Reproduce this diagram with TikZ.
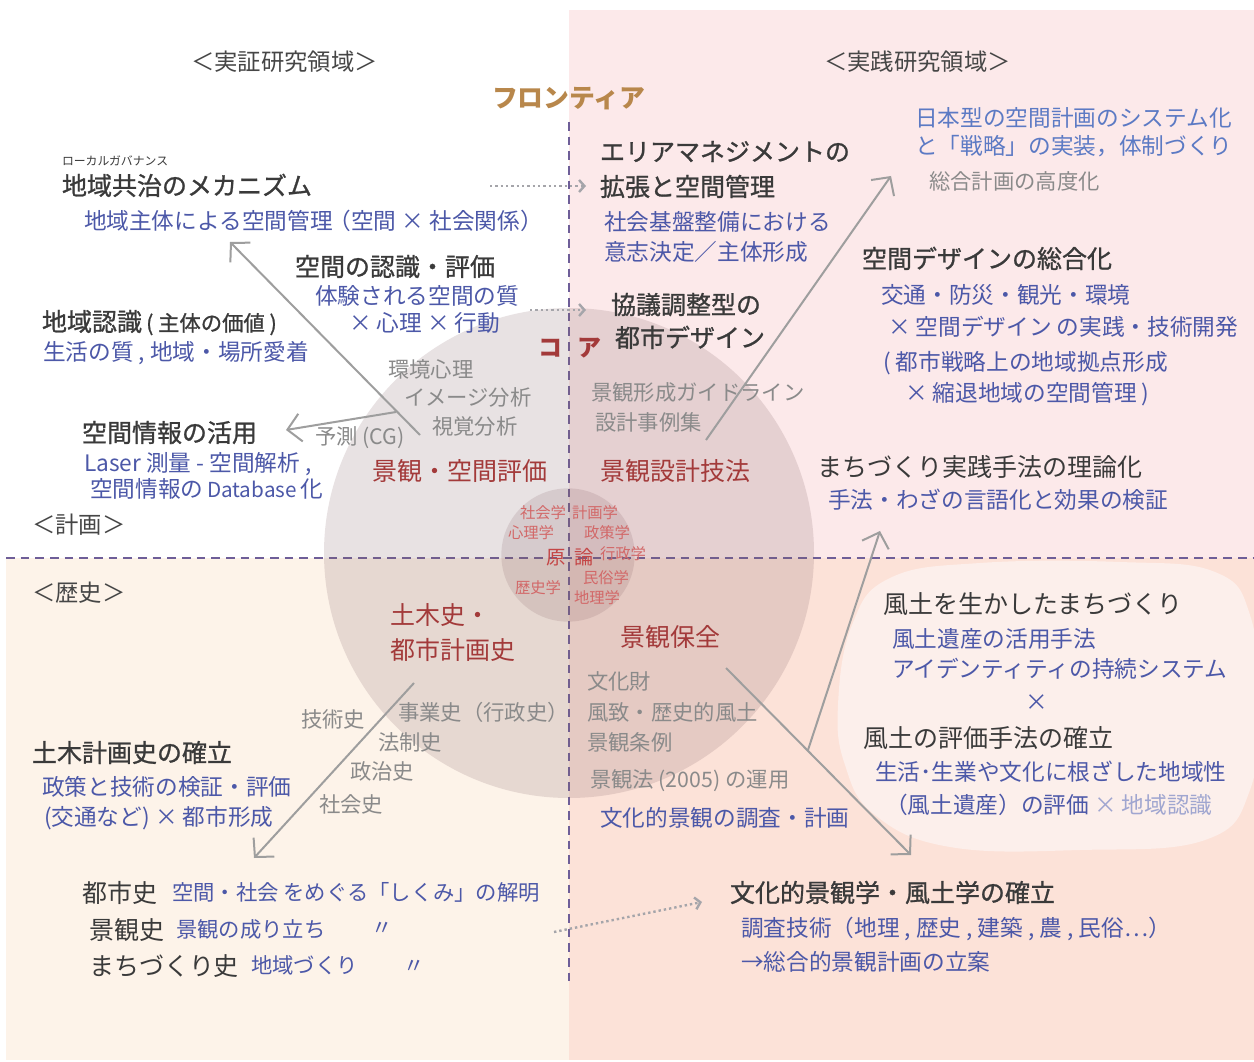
\documentclass[tikz,border=0pt]{standalone}
\usepackage{fontspec}
\setmainfont{Noto Sans CJK JP}
\newfontfamily\medjp{Noto Sans CJK JP}[FakeBold=1]
\usetikzlibrary{arrows.meta}
\definecolor{ink}{RGB}{58,58,58}
\definecolor{blu}{RGB}{76,88,168}
\definecolor{blulight}{RGB}{92,122,196}
\definecolor{gry}{RGB}{138,138,138}
\definecolor{redt}{RGB}{163,58,58}
\definecolor{corered}{RGB}{210,104,104}
\definecolor{coredark}{RGB}{196,70,70}
\definecolor{frontier}{RGB}{184,135,75}
\definecolor{lab}{RGB}{70,70,70}
\definecolor{xlight}{RGB}{160,166,208}
\definecolor{arrgray}{RGB}{158,158,158}
\definecolor{dotgray}{RGB}{165,165,170}
\definecolor{sepc}{RGB}{110,94,152}
\definecolor{pinkbg}{RGB}{252,233,234}
\definecolor{creambg}{RGB}{253,243,233}
\definecolor{peachbg}{RGB}{252,226,216}
\definecolor{blobbg}{RGB}{252,239,235}
\definecolor{circc}{RGB}{130,95,100}
\tikzset{
  tx/.style={anchor=west,inner sep=0pt,outer sep=0pt},
  hd/.style={tx,font=\medjp\fontsize{18.75}{22}\selectfont,text=ink,text height=13.5pt,text depth=0pt},
  hr/.style={tx,font=\fontsize{18.75}{22}\selectfont,text=ink,text height=13.5pt,text depth=0pt},
  bl/.style={tx,font=\fontsize{17}{20}\selectfont,text=blu,text height=12.2pt,text depth=0pt},
  bll/.style={tx,font=\fontsize{17}{20}\selectfont,text=blulight,text height=12.2pt,text depth=0pt},
  bs/.style={tx,font=\fontsize{16}{19}\selectfont,text=blu,text height=11.5pt,text depth=0pt},
  gr/.style={tx,font=\fontsize{16}{19}\selectfont,text=gry,text height=11.5pt,text depth=0pt},
  rd/.style={tx,font=\fontsize{18.75}{22}\selectfont,text=redt,text height=13.5pt,text depth=0pt},
  cs/.style={tx,font=\fontsize{11.5}{13}\selectfont,text=corered,text height=8.3pt,text depth=0pt},
  cb/.style={tx,font=\fontsize{14.5}{16}\selectfont,text=coredark,text height=10.4pt,text depth=0pt},
  lb/.style={tx,font=\fontsize{17.5}{20}\selectfont,text=lab,text height=12.6pt,text depth=0pt},
  arr/.style={draw=arrgray,line width=1.5pt,-{Straight Barb[length=10pt,width=21pt]}},
  dotarr/.style={draw=dotgray,line width=1.8pt,dash pattern=on 1.8pt off 2.2pt,-{Straight Barb[length=4pt,width=9pt]}},
  divider/.style={draw=sepc,line width=1.5pt,dash pattern=on 6.5pt off 4.5pt},
}
\begin{document}
\begin{tikzpicture}[x=0.75pt,y=-0.75pt]
\useasboundingbox (0,0) rectangle (1254,1062);
% backgrounds
\fill[white] (0,0) rectangle (1254,1062);
\fill[pinkbg] (569,10) rectangle (1254,558);
\fill[creambg] (6,558) rectangle (569,1060);
\fill[peachbg] (569,558) rectangle (1254,1060);
\fill[blobbg] plot[smooth cycle,tension=0.7] coordinates {(838,705) (852,625) (890,578) (980,563) (1120,562) (1215,572) (1250,615) (1258,700) (1250,790) (1205,840) (1080,850) (950,847) (875,815) (845,765)};
% dividers
\coordinate (vtop) at (569,122);
\coordinate (vbot) at (569,984);
\coordinate (hl) at (6,558);
\coordinate (hr) at (1254,558);
\draw[divider] (vtop) -- (vbot);
\draw[divider] (hl) -- (hr);
% circles
\fill[circc,fill opacity=0.18] (569,553) circle[radius=183.75pt];
\fill[circc,fill opacity=0.17] (568,555) circle[radius=50pt];

% labels
\node[lb] (lab1) at (191,62) {＜実証研究領域＞};
\node[lb] (lab2) at (824,62) {＜実践研究領域＞};
\node[lb] (lab3) at (32,525) {＜計画＞};
\node[lb] (lab4) at (32,593) {＜歴史＞};
\node[tx,font=\bfseries\fontsize{19.4}{22}\selectfont,text=frontier,text height=14pt,text depth=0pt] (frontier) at (492,98) {フロンティア};
\node[tx,font=\bfseries\fontsize{18}{22}\selectfont,text=redt,text height=13pt,text depth=0pt] (core) at (538,348) {コ\hspace{12pt}ア};

% top-left
\node[tx,font=\fontsize{8.9}{10}\selectfont,text=ink,text height=6.4pt,text depth=0pt] (ruby) at (62,161) {ローカルガバナンス};
\node[hd] (kyochi) at (62,186) {地域共治のメカニズム};
\node[bl] (kyochis) at (84,221) {地域主体による空間管理\kern-3pt（空間 × 社会関係）};
\node[hd] (ninshiki) at (295,267) {空間の認識・評価};
\node[bl] (taiken) at (315,296) {体験される空間の質};
\node[bl] (shinri) at (349,323) {× 心理 × 行動};
\node[hd] (chiiki) at (42,322) {地域認識\,{\fontsize{16}{19}\selectfont( 主体の価値 )}};
\node[bl] (seikatsu) at (43,352) {生活の質 , 地域・場所愛着};
\node[gr] (kankyo) at (388,370) {環境心理};
\node[gr] (imagea) at (404,398) {イメージ分析};
\node[gr] (shikaku) at (432,427) {視覚分析};
\node[gr] (yosoku) at (315,437) {予測 (CG)};
\node[hd] (kukan) at (82,433) {空間情報の活用};
\node[bl] (laser) at (84,463) {Laser 測量 - 空間解析 ,};
\node[bl] (dbase) at (90,489) {空間情報の\,{\fontsize{15.5}{19}\selectfont Database}\,化};
\node[rd] (keikanhyoka) at (372,472) {景観・空間評価};

% top-right
\node[bll] (nihon1) at (915,118) {日本型の空間計画のシステム化};
\node[bll] (nihon2) at (915,146) {と「戦略」の実装，体制づくり};
\node[gr] (sogo) at (929,182) {総合計画の高度化};
\node[hd] (area1) at (600,152) {エリアマネジメントの};
\node[hd] (area2) at (600,187) {拡張と空間管理};
\node[bl] (kiban1) at (604,222) {社会基盤整備における};
\node[bl] (kiban2) at (604,252) {意志決定／主体形成};
\node[hd] (design) at (862,259) {空間デザインの総合化};
\node[bl] (kotsu) at (881,295) {交通・防災・観光・環境};
\node[bl] (jissen) at (888,327) {× 空間デザイン の実践・技術開発};
\node[bl] (senryaku) at (883,362) {( 都市戦略上の地域拠点形成};
\node[bl] (shukutai) at (905,393) {× 縮退地域の空間管理 )};
\node[hd] (kyogi1) at (611,305) {協議調整型の};
\node[hd] (kyogi2) at (615,338) {都市デザイン};
\node[gr] (guide) at (591,393) {景観形成ガイドライン};
\node[gr] (jirei) at (595,423) {設計事例集};
\node[rd] (sekkei) at (600,472) {景観設計技法};
\node[hr] (machi) at (817,468) {まちづくり実践手法の理論化};
\node[bl] (shuho) at (828,500) {手法・わざの言語化と効果の検証};

% core
\node[cs] (c1) at (520,513) {社会学};
\node[cs] (c2) at (572,513) {計画学};
\node[cs] (c3) at (508,533) {心理学};
\node[cs] (c4) at (584,533) {政策学};
\node[cb] (gen) at (546,558) {原};
\node[cb] (ron) at (574,558) {論};
\node[cs] (c5) at (600,554) {行政学};
\node[cs] (c6) at (583,578) {民俗学};
\node[cs] (c7) at (515,588) {歴史学};
\node[cs] (c8) at (574,598) {地理学};

% bottom-left
\node[rd] (doboku1) at (390,615) {土木史・};
\node[rd] (doboku2) at (390,650) {都市計画史};
\node[gr] (gijutsu) at (301,720) {技術史};
\node[gr] (jigyo) at (398,713) {事業史（行政史）};
\node[gr] (hosei) at (378,743) {法制史};
\node[gr] (seiji) at (350,772) {政治史};
\node[gr] (shakaishi) at (319,805) {社会史};
\node[hd] (dobokukei) at (32,753) {土木計画史の確立};
\node[bl] (seisaku) at (42,787) {政策と技術の検証・評価};
\node[bl] (kotsunado) at (44,817) {(交通など) × 都市形成};
\node[hr] (toshishi) at (82,893) {都市史};
\node[bs] (toshishis) at (172,893) {空間・社会 をめぐる「しくみ」の解明};
\node[hr] (keikanshi) at (89,930) {景観史};
\node[bs] (keikanshis) at (176,930) {景観の成り立ち};
\node[bs] (ditto1) at (371,928) {〃};
\node[hr] (machishi) at (89,966) {まちづくり史};
\node[bs] (machishis) at (251,966) {地域づくり};
\node[bs] (ditto2) at (403,966) {〃};

% bottom-right
\node[rd] (hozen) at (620,638) {景観保全};
\node[gr] (bunkazai) at (587,682) {文化財};
\node[gr] (fuchi) at (587,713) {風致・歴史的風土};
\node[gr] (jorei) at (587,743) {景観条例};
\node[gr] (keikanho) at (590,780) {景観法 (2005) の運用};
\node[bl] (bunkateki) at (600,818) {文化的景観の調査・計画};
\node[hr] (fudo1) at (883,605) {風土を生かしたまちづくり};
\node[bl] (fudo2) at (892,639) {風土遺産の活用手法};
\node[bl] (fudo3) at (892,669) {アイデンティティの持続システム};
\node[bl] (fudox) at (1025,702) {×};
\node[hr] (fudo4) at (863,738) {風土の評価手法の確立};
\node[bl] (fudo5) at (875,772) {生活･生業や文化に根ざした地域性};
\node[bl] (fudo6) at (885,805) {（風土遺産）の評価 \textcolor{xlight}{× 地域認識}};
\node[hd] (bunkagaku) at (730,893) {文化的景観学・風土学の確立};
\node[bl] (chosa) at (741,928) {調査技術（地理 , 歴史 , 建築 , 農 , 民俗…）};
\node[bl] (ritsuan) at (741,962) {→総合的景観計画の立案};

% arrows
\coordinate (a1s) at (420,435); \coordinate (a1e) at (230,242);
\coordinate (a2s) at (396,412); \coordinate (a2e) at (286,430);
\coordinate (a3s) at (706,440); \coordinate (a3e) at (891,176);
\coordinate (a4s) at (414,683); \coordinate (a4e) at (254,858);
\coordinate (a5s) at (808,750); \coordinate (a5e) at (880,531);
\coordinate (a6s) at (726,668); \coordinate (a6e) at (911,855);
\draw[arr] (a1s) -- (a1e);
\draw[arr] (a2s) -- (a2e);
\draw[arr] (a3s) -- (a3e);
\draw[arr] (a4s) -- (a4e);
\draw[arr] (a5s) -- (a5e);
\draw[arr] (a6s) -- (a6e);
\coordinate (d1s) at (490,186); \coordinate (d1e) at (586,186);
\coordinate (d2s) at (530,310); \coordinate (d2e) at (586,310);
\coordinate (d3s) at (554,932); \coordinate (d3e) at (702,902);
\draw[dotarr] (d1s) -- (d1e);
\draw[dotarr] (d2s) -- (d2e);
\draw[dotarr] (d3s) -- (d3e);
\end{tikzpicture}
\end{document}
